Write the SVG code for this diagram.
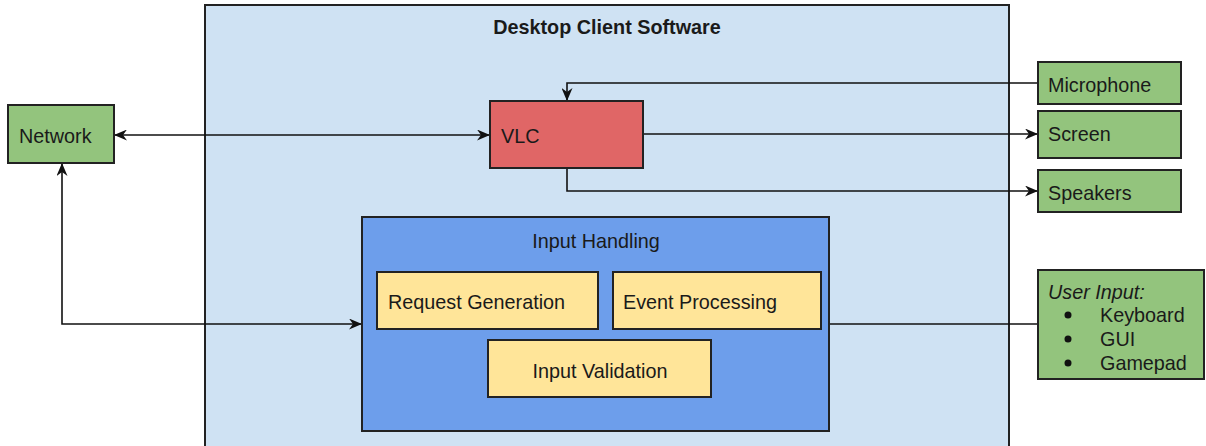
<svg xmlns="http://www.w3.org/2000/svg" width="1206" height="446" viewBox="0 0 1206 446">
<style>
text{font-family:"Liberation Sans",Arial,sans-serif;font-size:19.8px;fill:#1a1a1a}
.box{stroke:#222;stroke-width:2}
.green{fill:#93c47d}
.line{fill:none;stroke:#111;stroke-width:1.6}
.b{font-weight:bold}
.i{font-style:italic}
</style>
<defs>
<marker id="ah" markerWidth="13" markerHeight="11" viewBox="0 0 13 11" refX="12" refY="5.5" orient="auto-start-reverse" markerUnits="userSpaceOnUse">
<path d="M0,0 L13,5.5 L0,11 L4,5.5 z" fill="#111"/>
</marker>
</defs>
<g id="desktop">
<rect class="box" x="205" y="5" width="804" height="450" fill="#cfe2f3"/>
<text class="b" x="607" y="34" text-anchor="middle">Desktop Client Software</text>
</g>
<g id="connectors">
<line class="line" x1="115" y1="135" x2="489" y2="135" marker-start="url(#ah)" marker-end="url(#ah)"/>
<polyline class="line" points="1038,83 567,83 567,100" marker-end="url(#ah)"/>
<line class="line" x1="643" y1="134" x2="1037" y2="134" marker-end="url(#ah)"/>
<polyline class="line" points="567,168 567,191 1037,191" marker-end="url(#ah)"/>
<polyline class="line" points="62,164 62,324 361,324" marker-start="url(#ah)" marker-end="url(#ah)"/>
<line class="line" x1="829" y1="324" x2="1038" y2="324"/>
</g>
<g id="network">
<rect class="box green" x="8" y="105" width="106" height="58"/>
<text x="19" y="143">Network</text>
</g>
<g id="vlc">
<rect class="box" x="490" y="101" width="153" height="67" fill="#e06666"/>
<text x="501" y="143">VLC</text>
</g>
<g id="microphone">
<rect class="box green" x="1038" y="62" width="143" height="42"/>
<text x="1048" y="92">Microphone</text>
</g>
<g id="screen">
<rect class="box green" x="1038" y="111" width="143" height="47"/>
<text x="1048" y="141">Screen</text>
</g>
<g id="speakers">
<rect class="box green" x="1038" y="170" width="143" height="42"/>
<text x="1048" y="200">Speakers</text>
</g>
<g id="user-input">
<rect class="box green" x="1038" y="270" width="166" height="109"/>
<text class="i" x="1048" y="299">User Input:</text>
<circle cx="1068" cy="315" r="3.5" fill="#111"/>
<circle cx="1068" cy="339" r="3.5" fill="#111"/>
<circle cx="1068" cy="363" r="3.5" fill="#111"/>
<text x="1100" y="322">Keyboard</text>
<text x="1100" y="346">GUI</text>
<text x="1100" y="370">Gamepad</text>
</g>
<g id="input-handling">
<rect class="box" x="362" y="217" width="467" height="214" fill="#6d9eeb"/>
<text x="596" y="248" text-anchor="middle">Input Handling</text>
</g>
<g id="request-generation">
<rect class="box" x="377" y="272" width="221" height="57" fill="#ffe599"/>
<text x="388" y="309">Request Generation</text>
</g>
<g id="event-processing">
<rect class="box" x="613" y="272" width="208" height="57" fill="#ffe599"/>
<text x="623" y="309">Event Processing</text>
</g>
<g id="input-validation">
<rect class="box" x="488" y="340" width="223" height="57" fill="#ffe599"/>
<text x="600" y="378" text-anchor="middle">Input Validation</text>
</g>
</svg>
